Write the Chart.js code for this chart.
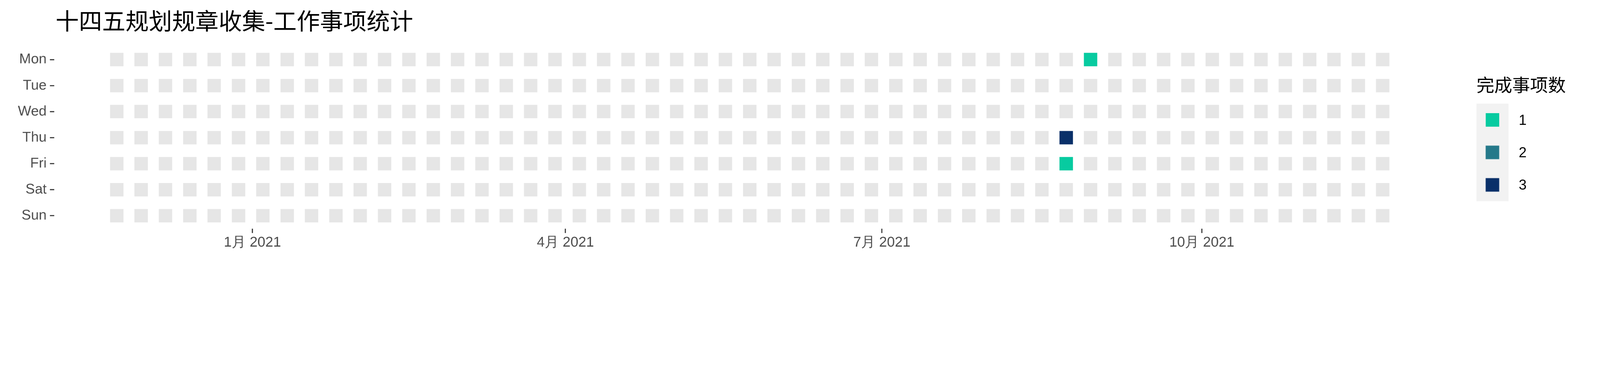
<!DOCTYPE html>
<html><head><meta charset="utf-8">
<script src="https://cdn.jsdelivr.net/npm/chart.js@4.4.0/dist/chart.umd.min.js"></script>
<style>
html,body{margin:0;padding:0;background:#fff;overflow:hidden;}
#wrap{position:relative;width:5905px;height:984px;transform-origin:0 0;}
canvas{position:absolute;left:0;top:0;}
.t{position:absolute;white-space:nowrap;}
</style></head><body>
<div id="wrap">
<canvas id="c" width="5905" height="984"></canvas>
<div class="t" style="left:205px;top:22px;font:86px 'Noto Sans CJK SC';color:#000;line-height:100px;">十四五规划规章收集-工作事项统计</div>
<div class="t" style="left:5449px;top:270px;font:66px 'Noto Sans CJK SC';color:#000;line-height:80px;">完成事项数</div>
<div id="leg" style="position:absolute;left:5449px;top:383px;width:118px;height:360px;background:#f2f2f2;"></div>
</div>
<script>
const days = ['Mon','Tue','Wed','Thu','Fri','Sat','Sun'];
const firstWeek = '2020-11-23';
const weekCount = 53;
const doneDates = ['2021-08-26','2021-08-27','2021-08-30'];
const doneCounts = [3, 1, 1];
const legendLevels = [1, 2, 3];
const levelColors = ['#07CBA0', '#25798A', '#0A3069'];
const tickDates = ['2021-01-01','2021-04-01','2021-07-01','2021-10-01'];
const tickLabels = ['1月 2021','4月 2021','7月 2021','10月 2021'];

const wrap = document.getElementById('wrap');
const sc = Math.min(window.innerWidth/5905, window.innerHeight/984) || 1;
if (Math.abs(sc-1) > 0.001) wrap.style.transform = `scale(${sc})`;

const origin = Date.UTC(2021,0,1);
const dayNum = s => { const [y,m,d] = s.split('-').map(Number); return Math.round((Date.UTC(y,m-1,d)-origin)/86400000); };
const w0 = dayNum(firstWeek);
const bg = [];
for (let w=0; w<weekCount; w++) for (let d=0; d<7; d++) bg.push({x: w0+w*7, y: d});
const done = doneDates.map((s,i)=>{ const n=dayNum(s); const wd=((n-w0)%7+7)%7; return {x:n-wd, y:wd, v:doneCounts[i]}; });
const tickVals = tickDates.map(dayNum);

const leg = document.getElementById('leg');
legendLevels.forEach((lv,i)=>{
  const k=document.createElement('div');
  k.style.cssText=`position:absolute;left:34px;top:${35+i*120}px;width:50px;height:50px;background:${levelColors[i]}`;
  leg.appendChild(k);
  const t=document.createElement('div');
  t.className='t'; t.textContent=lv;
  t.style.cssText+=`left:156px;top:${20+i*120}px;font:52px 'Liberation Sans';color:#000;line-height:80px;`;
  leg.appendChild(t);
});

new Chart(document.getElementById('c'), {
  type:'scatter',
  data:{datasets:[
    {data:done, pointStyle:'rect', pointRadius:35, pointHoverRadius:35, borderWidth:0,
     backgroundColor: done.map(p=>levelColors[p.v-1])},
    {data:bg, pointStyle:'rect', pointRadius:35, pointHoverRadius:35, borderWidth:0, backgroundColor:'#E6E6E6'}
  ]},
  options:{
    responsive:false, animation:false, devicePixelRatio:1,
    layout:{padding:{top:172,right:571,left:0,bottom:0}},
    plugins:{legend:{display:false},tooltip:{enabled:false}},
    scales:{
      x:{type:'linear', min:-57, max:343,
        afterBuildTicks:a=>{a.ticks=tickVals.map(v=>({value:v}));},
        afterFit:a=>{a.height=139;},
        ticks:{callback:(v)=>tickLabels[tickVals.indexOf(v)], color:'#4d4d4d', font:{family:'Liberation Sans',size:52}, padding:4, maxRotation:0, autoSkip:false},
        grid:{drawOnChartArea:false, drawTicks:true, tickLength:16, tickWidth:4, color:'#333'},
        border:{display:false}},
      y:{type:'linear', min:-0.5, max:6.5, reverse:true,
        afterBuildTicks:a=>{a.ticks=days.map((d,i)=>({value:i}));},
        afterFit:a=>{a.width=200;},
        ticks:{callback:(v)=>days[v], color:'#4d4d4d', font:{family:'Liberation Sans',size:52}, padding:12},
        grid:{drawOnChartArea:false, drawTicks:true, tickLength:16, tickWidth:4, color:'#333'},
        border:{display:false}}
    }
  }
});
</script>
</body></html>
